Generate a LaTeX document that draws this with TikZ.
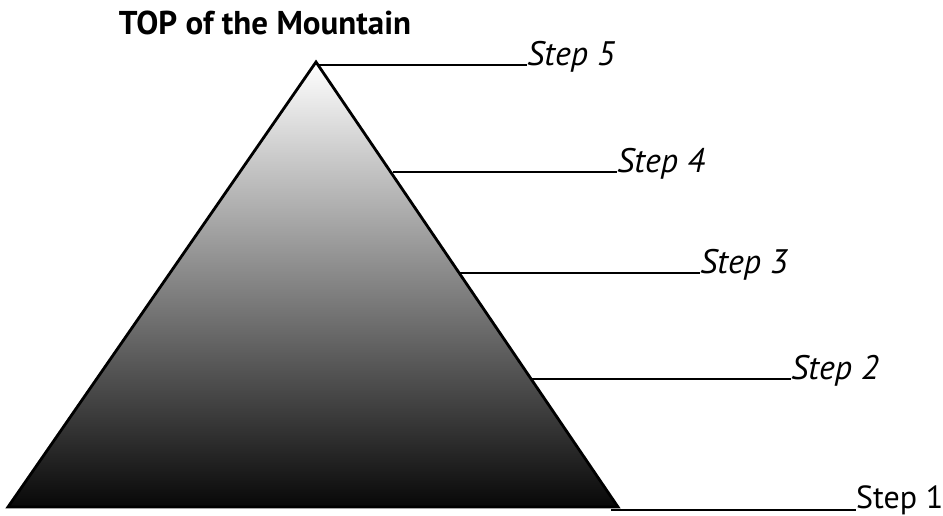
\documentclass[tikz,border=0pt]{standalone}
\usepackage{fontspec}
\setmainfont{PT Sans}
\begin{document}
\begin{tikzpicture}[x=1pt,y=-1pt,
  edge/.style={line width=2.8pt,line join=miter},
  rule/.style={line width=2.2pt},
  steplabel/.style={anchor=base west,inner sep=0pt,font=\fontsize{34}{36}\selectfont\itshape},
  steplabelup/.style={anchor=base west,inner sep=0pt,font=\fontsize{32}{34}\selectfont},
  titlelabel/.style={anchor=base,inner sep=0pt,font=\fontsize{33}{36}\selectfont\bfseries}]
\useasboundingbox (0,0) rectangle (943,515);
% mountain
\coordinate (apex) at (316,62);
\coordinate (bl) at (8,507);
\coordinate (br) at (618,507);
\shade[top color=white,middle color={rgb,255:red,158;green,159;blue,162},bottom color={rgb,255:red,8;green,8;blue,8}]
  (apex) -- (br) -- (bl) -- cycle;
\draw[edge] (apex) -- (br) -- (bl) -- cycle;
% title
\node[titlelabel] (top) at (265,34) {TOP of the Mountain};
% edge points
\coordinate (e5) at (318,65);
\coordinate (e4) at (393,172);
\coordinate (e3) at (459,273);
\coordinate (e2) at (531,379);
\coordinate (e1) at (611,510);
% labels
\node[steplabel] (s5) at (527,65) {Step 5};
\node[steplabel] (s4) at (617,172) {Step 4};
\node[steplabel] (s3) at (700,273) {Step 3};
\node[steplabel] (s2) at (791,379) {Step 2};
\node[steplabelup] (s1) at (856,508) {Step 1};
% rules
\draw[rule] (e5) -- (s5.base west);
\draw[rule] (e4) -- (s4.base west);
\draw[rule] (e3) -- (s3.base west);
\draw[rule] (e2) -- (s2.base west);
\draw[rule] (e1) -- (s1.base west |- e1);
\end{tikzpicture}
\end{document}
